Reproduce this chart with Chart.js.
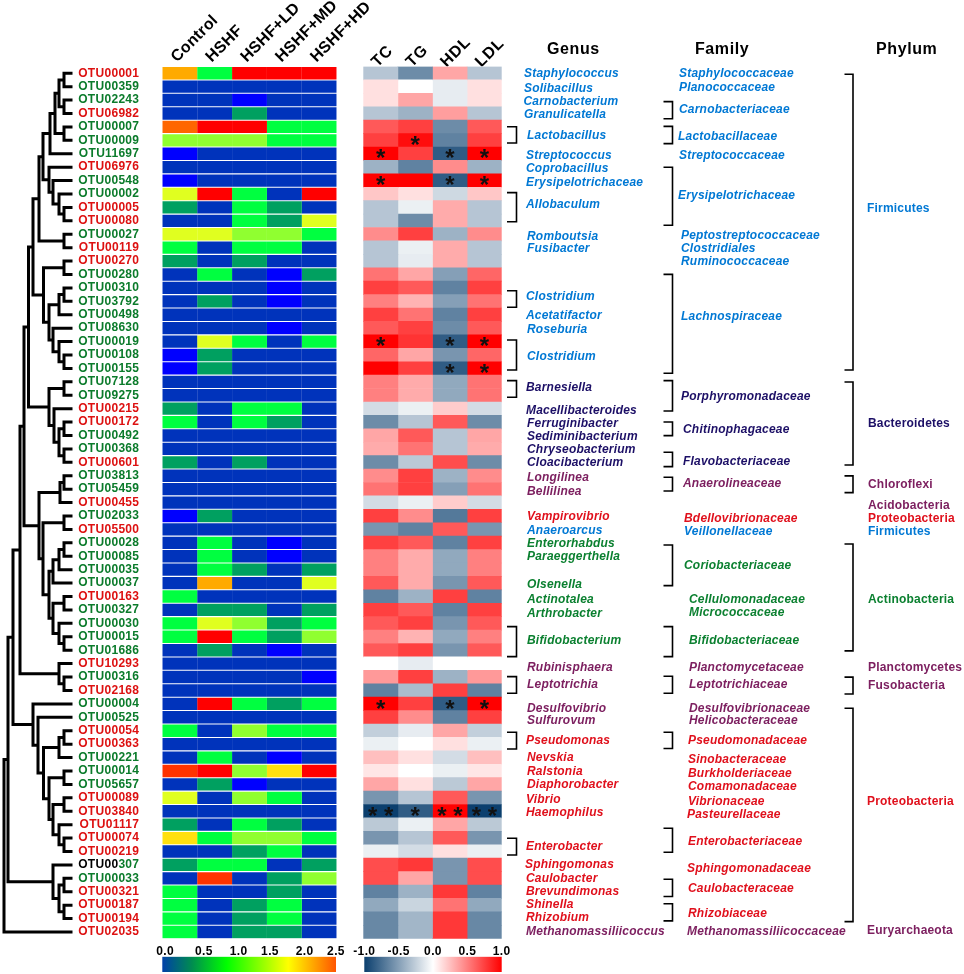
<!DOCTYPE html>
<html>
<head>
<meta charset="utf-8">
<title>OTU heatmap</title>
<script src="https://cdn.jsdelivr.net/npm/chart.js@4/dist/chart.umd.min.js"></script>
<style>
  html, body { margin: 0; padding: 0; background: #fff; }
  #page { position: relative; width: 964px; height: 974px; overflow: hidden; }
  #page canvas { position: absolute; }
</style>
</head>
<body>
<div id="page">
  <canvas id="treeChart" width="78" height="974" style="left:0;top:0"></canvas>
  <canvas id="taxaChart" width="462" height="974" style="left:502px;top:0"></canvas>
  <canvas id="abundChart" width="320" height="974" style="left:70px;top:0"></canvas>
  <canvas id="corrChart" width="220" height="974" style="left:340px;top:0"></canvas>
  <canvas id="abundBar" width="250" height="38" style="left:130px;top:936px"></canvas>
  <canvas id="corrBar" width="210" height="38" style="left:330px;top:936px"></canvas>
</div>
<script>
// Rows, top to bottom
var otuNames = ["OTU00001","OTU00359","OTU02243","OTU06982","OTU00007","OTU00009","OTU11697","OTU06976","OTU00548","OTU00002",
  "OTU00005","OTU00080","OTU00027","OTU00119","OTU00270","OTU00280","OTU00310","OTU03792","OTU00498","OTU08630",
  "OTU00019","OTU00108","OTU00155","OTU07128","OTU09275","OTU00215","OTU00172","OTU00492","OTU00368","OTU00601",
  "OTU03813","OTU05459","OTU00455","OTU02033","OTU05500","OTU00028","OTU00085","OTU00035","OTU00037","OTU00163",
  "OTU00327","OTU00030","OTU00015","OTU01686","OTU10293","OTU00316","OTU02168","OTU00004","OTU00525","OTU00054",
  "OTU00363","OTU00221","OTU00014","OTU05657","OTU00089","OTU03840","OTU01117","OTU00074","OTU00219","OTU00307",
  "OTU00033","OTU00321","OTU00187","OTU00194","OTU02035"];
var otuRed = ["OTU00001","OTU06982","OTU06976","OTU00005","OTU00080","OTU00119","OTU00270","OTU00215","OTU00172","OTU00601",
  "OTU00455","OTU05500","OTU00163","OTU10293","OTU02168","OTU00054","OTU00363","OTU00089","OTU03840","OTU01117",
  "OTU00074","OTU00219","OTU00321","OTU00187","OTU00194","OTU02035"];

// Abundance heatmap columns (0 to 2.5)
var abundNames = ["Control","HSHF","HSHF+LD","HSHF+MD","HSHF+HD"];
var control = [2.1,.1,.1,.1,2.2,1.4,0,.1,0,1.7, .5,.1,1.7,1,.5,.1,.1,.1,.1,.1, .1,0,0,.1,.1,.5,1,.1,.1,.5, .1,.1,.1,0,.1,.1,.1,.1,.1,1, .1,1,1,.1,.1,.1,.1,.1,.1,1, .1,.1,2.3,.1,1.7,.1,.5,1.9,.1,.5, .1,1,1,1,1];
var hshf = [1,.1,.1,.1,2.5,1.4,.1,.1,.1,2.5, .1,.1,1.7,.1,.1,1,.1,.5,.1,.1, 1.7,.5,.5,.1,.1,.1,.1,.1,.1,.1, .1,.1,.1,.5,.1,1,1,1,2.1,.1, .5,1.7,2.5,.5,.1,.1,.1,2.5,.1,.1, .1,1,2.5,.5,.1,.1,.1,1,.1,1, 2.3,.1,.1,.1,.1];
var hshfLd = [2.5,.1,0,.5,2.5,1.4,.1,.1,.1,1, 1,1,1.4,1,.5,.1,.1,.1,.1,.1, 1,.1,.1,.1,.1,1,1,.1,.1,.5, .1,.1,.1,.1,.1,.1,.1,.5,.1,.1, .5,1.4,1,.1,.1,.1,.1,1,.1,1.4, .1,.1,1.4,0,1.4,.1,1,1.4,.5,1, .1,.1,.5,.5,.5];
var hshfMd = [2.5,.1,.1,.1,1,1,.1,.1,.1,.1, .5,.5,1.4,1,.1,0,0,0,.1,0, .1,.1,.1,.1,.1,1,.5,.1,.1,.1, .1,.1,.1,.1,.1,0,0,.1,.1,.1, .1,.5,.5,0,.1,.1,.1,.5,.1,1, .1,0,1.9,.1,1,.1,.5,1.4,1,.1, .5,.5,1,1,.5];
var hshfHd = [2.5,.1,.1,.1,1,1,.1,.1,.1,2.5, .1,1.7,1,.1,.1,.5,.1,.1,.1,.1, 1,.1,.1,.1,.1,.1,.1,.1,.1,.1, .1,.1,.1,.1,.1,.1,.1,.5,1.7,.1, .5,1,1.4,.1,.1,0,.1,1,.1,1, .1,.1,2.5,.1,.1,.1,.1,1,.1,.5, 1.4,.1,.1,.1,.1];

// Correlation heatmap columns (-1 to 1)
var corrNames = ["TC","TG","HDL","LDL"];
var tc = [-.3,.12,.12,-.3,.65,.75,1,-.4,1,.22, -.3,-.3,.45,-.3,-.3,.55,.75,.5,.75,.65, 1,.6,1,.5,.5,-.18,-.6,.35,.33,-.6, .45,.55,-.18,.75,-.55,.75,.5,.5,.65,-.65, .75,.65,.5,.65,0,.4,-.65,1,.75,-.25, -.08,.25,.1,.35,-.55,-1,-.28,-.55,-.08,.7, .7,-.65,-.45,-.62,-.62];
var tg = [-.6,0,.35,-.4,.75,.95,.75,-.65,1,.12, -.08,-.6,.75,-.08,-.1,.35,.65,.3,.55,.75, .8,.35,.75,.33,.33,-.08,-.3,.65,.55,-.28, .75,.75,-.08,.45,-.65,.65,.33,.33,.33,-.4, .65,.75,.3,.75,-.1,.75,-.35,.75,.45,-.1, 0,.12,0,.12,-.3,-.85,-.08,-.3,-.18,.78, .35,-.4,-.22,-.38,-.38];
var hdl = [.35,-.1,-.1,.38,-.6,-.65,-.85,.45,-.85,-.2, .33,.33,-.4,.33,.33,-.5,-.65,-.5,-.65,-.6, -.85,-.55,-.85,-.45,-.45,.2,.65,-.3,-.3,.7, -.4,-.5,.2,-.7,.65,-.65,-.45,-.45,-.55,.75, -.65,-.55,-.45,-.55,0,-.4,.75,-.85,-.65,.35, .12,-.18,-.08,-.28,.65,1,.35,.65,.12,-.55, -.55,.78,.55,.78,.78];
var ldl = [-.3,.12,.12,-.3,.65,.75,1,-.4,1,.22, -.3,-.3,.45,-.3,-.3,.6,.75,.55,.75,.65, 1,.6,1,.55,.55,-.18,-.6,.35,.33,-.6, .45,.55,-.18,.75,-.55,.75,.5,.5,.65,-.65, .75,.65,.5,.65,0,.4,-.65,1,.75,-.25, -.08,.25,.1,.35,-.55,-1,-.28,-.55,-.08,.7, .7,-.65,-.45,-.62,-.62];

// Significance marks on the correlation heatmap
var starRows = [5,6,6,6,8,8,8,20,20,20,22,22,47,47,47,55,55,55,55];
var starCols = [1,0,2,3,0,2,3,0,2,3,2,3,0,2,3,0,1,2,3];
var starText = ["*","*","*","*","*","*","*","*","*","*","*","*","*","*","*","* *","*","* *","* *"];

// Dendrogram: [merge height, child, child], a plain number is a row
var tree = [4,
  [8,
    [13,
      [20,
        [24,
          [28.5,
            [33,
              [39,
                [43,
                  [50,[55,[59,[64,0,1],[64,2,3]],[64,4,5]],6],
                  [49,7,[53,8,[59,9,[64,10,11]]]]],
                [64,12,13]],
              [43.5,[64,14,15],[49,[59,[64,16,17],18],[53,19,[59,20,[64,21,22]]]]]],
            [49,[64,23,24],[54,25,[59,[64,26,27],[64,28,29]]]]],
          [39,
            [60,[64,30,31],32],
            [43,[64,33,34],[49,[53,[59,[64,35,36],37],38],[53,[64,39,40],[59,41,[64,42,43]]]]]]],
        [59,44,[64,45,46]]],
      [33,47,[38,48,[43.5,[59,[64,49,50],51],[49,[64,52,53],[53,[64,54,55],[59,56,[64,57,58]]]]]]]],
    [53,59,[59,[64,60,61],[64,62,63]]]],
  64];

// Taxonomy labels: name, row they sit on, phylum colour code
var genusNames = ["Staphylococcus","Solibacillus","Carnobacterium","Granulicatella","Lactobacillus","Streptococcus","Coprobacillus","Erysipelotrichaceae","Allobaculum","Romboutsia","Fusibacter","Clostridium","Acetatifactor","Roseburia","Clostridium","Barnesiella","Macellibacteroides","Ferruginibacter","Sediminibacterium","Chryseobacterium","Cloacibacterium","Longilinea","Bellilinea","Vampirovibrio","Anaeroarcus","Enterorhabdus","Paraeggerthella","Olsenella","Actinotalea","Arthrobacter","Bifidobacterium","Rubinisphaera","Leptotrichia","Desulfovibrio","Sulfurovum","Pseudomonas","Nevskia","Ralstonia","Diaphorobacter","Vibrio","Haemophilus","Enterobacter","Sphingomonas","Caulobacter","Brevundimonas","Shinella","Rhizobium","Methanomassiliicoccus"];
var genusRows = [0,1.15,2.15,3.11,4.63,6.12,7.12,8.16,9.77,12.18,13.05,16.62,18.09,19.08,21.13,23.43,25.15,26.12,27.09,28.03,29.02,30.14,31.18,33.07,34.06,35.03,36.03,38.14,39.25,40.25,42.29,44.32,45.57,47.33,48.25,49.74,51,52.09,53.02,54.16,55.1,57.66,58.95,60.02,60.96,61.98,62.9,63.97];
var genusGroup = "FFFFFFFFFFFFFFFBBBBBBCCPFAAAAAACCCCPPPPPPPPPPPPC";
var familyNames = ["Staphylococcaceae","Planococcaceae","Carnobacteriaceae","Lactobacillaceae","Streptococcaceae","Erysipelotrichaceae","Peptostreptococcaceae","Clostridiales","Ruminococcaceae","Lachnospiraceae","Porphyromonadaceae","Chitinophagaceae","Flavobacteriaceae","Anaerolineaceae","Bdellovibrionaceae","Veillonellaceae","Coriobacteriaceae","Cellulomonadaceae","Micrococcaceae","Bifidobacteriaceae","Planctomycetaceae","Leptotrichiaceae","Desulfovibrionaceae","Helicobacteraceae","Pseudomonadaceae","Sinobacteraceae","Burkholderiaceae","Comamonadaceae","Vibrionaceae","Pasteurellaceae","Enterobacteriaceae","Sphingomonadaceae","Caulobacteraceae","Rhizobiaceae","Methanomassiliicoccaceae"];
var familyRows = [0,1.1,2.74,4.73,6.12,9.13,12.13,13.1,14.02,18.14,24.08,26.54,28.92,30.56,33.17,34.17,36.72,39.25,40.22,42.29,44.32,45.57,47.33,48.25,49.74,51.15,52.22,53.17,54.31,55.25,57.29,59.28,60.81,62.6,63.97];
var familyGroup = "FFFFFFFFFFBBBCPFAAAACCCCPPPPPPPPPPC";
var phylumNames = ["Firmicutes","Bacteroidetes","Chloroflexi","Acidobacteria","Proteobacteria","Firmicutes","Actinobacteria","Planctomycetes","Fusobacteria","Proteobacteria","Euryarchaeota"];
var phylumRows = [10.12,26.14,30.69,32.2,33.17,34.17,39.25,44.32,45.64,54.31,63.9];
var phylumGroup = "FBCCPFACCPC";

// Bracket spans, in rows
var genusSpans = [[3.99,5.2],[8.9,11.07],[16.21,17.44],[19.88,22.12],[22.91,24.15],[41.24,43.48],[44.97,46.21],[49.11,50.36],[57.01,58.26]];
var familySpans = [[2.12,3.39],[3.96,5.25],[7.01,11.33],[14.99,22.36],[22.91,25.17],[25.99,27.01],[28.25,29.32],[30.11,31.13],[35.16,38.19],[41.24,43.48],[44.94,46.21],[49.11,50.33],[56.27,58.06],[60.07,61.36],[61.9,63.17]];
var phylumSpans = [[.08,22.12],[23.01,29.2],[30.01,31.26],[35.08,43.05],[45.01,46.26],[47.33,63.23]];

// Colour bars
var abundBarTicks = [.04,.6,1.1,1.55,2.05,2.5];
var abundBarLabels = ["0.0","0.5","1.0","1.5","2.0","2.5"];
var corrBarTicks = [-1,-.5,0,.5,1];

// ---- layout and colours ----
var PLOT_TOP = 66.5, PLOT_BOTTOM = 35.3;
var FONT = '"Liberation Sans", Arial, sans-serif';
var groupColors = { F: "#0078d4", B: "#1c0f66", C: "#7d2060", P: "#e0101c", A: "#0b8030" };
var OTU_RED = "#dd1111", OTU_GREEN = "#0b7b2b";

var genusX = [524,524,523.5,524,527,526,526,526,526,527,527,526,526,527,527,526,526,527,527,527,527,527,527,527,527,527,527,527,527,527,527,527,527,527,527,526,527,527,527,526,526,526,525,526,526,526,526,526];
var familyX = [679,679,679,678,679,678,681,681,681,681,681,683,683,683,684,684,684,689,689,689,689,689,689,689,688,688,688,688,688,687,688,687,688,688,687];
var phylumX = [867,868,868,868,868,868,868,868,868,867,867];

var abundStops = [[0,"#0000ff"],[.1,"#0033bb"],[.5,"#00a060"],[1,"#00ff40"],[1.4,"#90ff30"],[1.7,"#e0ff20"],[1.9,"#ffe010"],[2.1,"#ffaa00"],[2.2,"#ff6600"],[2.3,"#ff3300"],[2.5,"#ff0000"]];
var corrStops = [[-1,"#0b3f6e"],[0,"#ffffff"],[1,"#ff0000"]];
var abundBarStops = [[0,"#0040a8"],[.17,"#008c50"],[.37,"#00ff00"],[.725,"#ffff00"],[1,"#ff5500"]];
var corrBarStops = [[0,"#0b3f6e"],[.5,"#ffffff"],[1,"#ff0000"]];

function hexToRgb(h) {
  return [parseInt(h.substr(1,2),16), parseInt(h.substr(3,2),16), parseInt(h.substr(5,2),16)];
}
function colorFor(stops, v) {
  for (var i = 1; i < stops.length; i++) {
    if (v <= stops[i][0]) {
      var t = (v - stops[i-1][0]) / (stops[i][0] - stops[i-1][0]);
      var a = hexToRgb(stops[i-1][1]), b = hexToRgb(stops[i][1]);
      return "rgb(" + Math.round(a[0]+(b[0]-a[0])*t) + "," + Math.round(a[1]+(b[1]-a[1])*t) + "," + Math.round(a[2]+(b[2]-a[2])*t) + ")";
    }
  }
  return stops[stops.length-1][1];
}
function spacing(px) {
  return { id: "spacing", beforeDraw: function (chart) { chart.ctx.letterSpacing = px + "px"; } };
}
var baseOptions = {
  responsive: false,
  animation: false,
  events: [],
  plugins: { legend: { display: false }, tooltip: { enabled: false } }
};
function opts(extra) { return Object.assign({}, baseOptions, extra); }

function heatDatasets(columns, stops, percent) {
  return columns.map(function (values) {
    return {
      data: values.map(function () { return 1; }),
      backgroundColor: values.map(function (v) { return colorFor(stops, v); }),
      barPercentage: percent,
      categoryPercentage: 1,
      borderWidth: 0
    };
  });
}
function columnAxis(names, offset, font, pad) {
  return {
    type: "linear", position: "top", stacked: true, min: 0, max: names.length,
    grid: { display: false, drawTicks: false }, border: { display: false },
    afterBuildTicks: function (scale) {
      scale.ticks = names.map(function (n, i) { return { value: i + offset }; });
    },
    afterFit: function (scale) { scale.height = PLOT_TOP; },
    ticks: {
      autoSkip: false, minRotation: 45, maxRotation: 45, padding: pad, color: "#000", font: font,
      callback: function (v, i) { return names[i]; }
    }
  };
}

// ---- dendrogram ----
var treeLines = [];
function walk(node) {
  if (typeof node === "number") return { x: 71, y: node };
  var h = node[0];
  var kids = node.slice(1).map(walk);
  kids.forEach(function (k) {
    treeLines.push({ x: h, y: k.y }, { x: k.x, y: k.y }, { x: NaN, y: NaN });
  });
  var first = kids[0].y, last = kids[kids.length-1].y;
  treeLines.push({ x: h, y: first }, { x: h, y: last }, { x: NaN, y: NaN });
  return { x: h, y: (first + last) / 2 };
}
walk(tree);
new Chart(document.getElementById("treeChart"), {
  type: "line",
  data: { datasets: [{ data: treeLines, borderColor: "#000", borderWidth: 3, pointRadius: 0, borderCapStyle: "square", spanGaps: false, clip: false }] },
  options: opts({
    layout: { padding: { top: PLOT_TOP, bottom: PLOT_BOTTOM } },
    scales: {
      x: { type: "linear", min: 0, max: 78, display: false },
      y: { type: "linear", min: -.5, max: 64.5, reverse: true, display: false }
    }
  })
});

// ---- abundance heatmap ----
new Chart(document.getElementById("abundChart"), {
  type: "bar",
  data: { labels: otuNames, datasets: heatDatasets([control, hshf, hshfLd, hshfMd, hshfHd], abundStops, .92) },
  options: opts({
    indexAxis: "y",
    layout: { padding: { right: 53.3, bottom: PLOT_BOTTOM } },
    scales: {
      x: columnAxis(abundNames, .72, { family: FONT, size: 16, weight: "bold" }, 0),
      y: {
        type: "category", stacked: true,
        grid: { display: false, drawTicks: false }, border: { display: false },
        afterFit: function (scale) { scale.width = 92.3; },
        ticks: {
          autoSkip: false, padding: 23, font: { family: FONT, size: 12, weight: "bold" },
          color: function (c) { return otuRed.indexOf(otuNames[c.index]) >= 0 ? OTU_RED : OTU_GREEN; },
          callback: function (v, i) { return otuNames[i] === "OTU00307" ? "" : otuNames[i]; }
        }
      }
    }
  }),
  plugins: [spacing(.3), {
    id: "twoToneLabel",
    afterDraw: function (chart) {
      // this one label is half black, half green in the original
      var ctx = chart.ctx, y = chart.scales.y.getPixelForValue(otuNames.indexOf("OTU00307"));
      var right = chart.chartArea.left - 23;
      ctx.save();
      ctx.font = "bold 12px " + FONT;
      ctx.letterSpacing = ".3px";
      ctx.textBaseline = "middle";
      ctx.textAlign = "left";
      var x = right - ctx.measureText("OTU00307").width;
      ctx.fillStyle = "#000";
      ctx.fillText("OTU00", x, y);
      ctx.fillStyle = OTU_GREEN;
      ctx.fillText("307", x + ctx.measureText("OTU00").width, y);
      ctx.restore();
    }
  }]
});

// ---- correlation heatmap ----
new Chart(document.getElementById("corrChart"), {
  type: "bar",
  data: { labels: otuNames, datasets: heatDatasets([tc, tg, hdl, ldl], corrStops, 1) },
  options: opts({
    indexAxis: "y",
    layout: { padding: { left: 23.3, right: 58.3, bottom: PLOT_BOTTOM } },
    scales: {
      x: columnAxis(corrNames, .71, { family: FONT, size: 16, weight: "bold" }, -5),
      y: { type: "category", stacked: true, display: false }
    }
  }),
  plugins: [spacing(.8), {
    id: "stars",
    afterDatasetsDraw: function (chart) {
      var ctx = chart.ctx;
      ctx.save();
      ctx.letterSpacing = "0px";
      ctx.font = "bold 24px " + FONT;
      ctx.fillStyle = "#111";
      ctx.textAlign = "center";
      ctx.textBaseline = "middle";
      starRows.forEach(function (row, i) {
        ctx.fillText(starText[i], chart.scales.x.getPixelForValue(starCols[i] + .5), chart.scales.y.getPixelForValue(row) + 6);
      });
      ctx.restore();
    }
  }]
});

// ---- genus, family and phylum columns ----
var bracketLines = [];
function addBrackets(spans, x0, x1) {
  spans.forEach(function (s) {
    bracketLines.push({ x: x0, y: s[0] }, { x: x1, y: s[0] }, { x: x1, y: s[1] }, { x: x0, y: s[1] }, { x: NaN, y: NaN });
  });
}
addBrackets(genusSpans, 507, 516.5);
addBrackets(familySpans, 663.5, 672.5);
addBrackets(phylumSpans, 844.5, 853);

new Chart(document.getElementById("taxaChart"), {
  type: "line",
  data: { datasets: [{ data: bracketLines, borderColor: "#000", borderWidth: 1.6, pointRadius: 0, spanGaps: false, clip: false }] },
  options: opts({
    layout: { padding: { top: PLOT_TOP, bottom: PLOT_BOTTOM } },
    scales: {
      x: { type: "linear", min: 502, max: 964, display: false },
      y: { type: "linear", min: -.5, max: 64.5, reverse: true, display: false }
    }
  }),
  plugins: [{
    id: "taxonText",
    afterDraw: function (chart) {
      var ctx = chart.ctx, sx = chart.scales.x, sy = chart.scales.y;
      function column(names, rows, xs, groups, font, gap) {
        ctx.font = font;
        ctx.letterSpacing = gap + "px";
        names.forEach(function (n, i) {
          ctx.fillStyle = groupColors[groups[i]];
          ctx.fillText(n, sx.getPixelForValue(xs[i]), sy.getPixelForValue(rows[i]));
        });
      }
      ctx.save();
      ctx.textAlign = "left";
      ctx.textBaseline = "middle";
      column(genusNames, genusRows, genusX, genusGroup, "italic bold 12px " + FONT, .2);
      column(familyNames, familyRows, familyX, familyGroup, "italic bold 12px " + FONT, .2);
      column(phylumNames, phylumRows, phylumX, phylumGroup, "bold 12px " + FONT, .2);
      ctx.font = "bold 16px " + FONT;
      ctx.letterSpacing = ".6px";
      ctx.fillStyle = "#000";
      ctx.fillText("Genus", sx.getPixelForValue(547), sy.getPixelForValue(-1.73));
      ctx.fillText("Family", sx.getPixelForValue(695), sy.getPixelForValue(-1.73));
      ctx.fillText("Phylum", sx.getPixelForValue(876), sy.getPixelForValue(-1.73));
      ctx.restore();
    }
  }]
});

// ---- colour bars ----
function colorBar(id, min, max, stops, tickValues, tickLabels, padLeft, padRight) {
  new Chart(document.getElementById(id), {
    type: "bar",
    data: {
      labels: ["scale"],
      datasets: [{
        data: [[min, max]],
        barPercentage: 1,
        categoryPercentage: 1,
        borderWidth: 0,
        backgroundColor: function (c) {
          var area = c.chart.chartArea;
          if (!area) return "transparent";
          var g = c.chart.ctx.createLinearGradient(area.left, 0, area.right, 0);
          stops.forEach(function (s) { g.addColorStop(s[0], s[1]); });
          return g;
        }
      }]
    },
    options: opts({
      indexAxis: "y",
      layout: { padding: { left: padLeft, right: padRight, bottom: 2 } },
      scales: {
        x: {
          type: "linear", position: "top", min: min, max: max,
          grid: { display: false, drawTicks: false }, border: { display: false },
          afterBuildTicks: function (scale) {
            scale.ticks = tickValues.map(function (v) { return { value: v }; });
          },
          afterFit: function (scale) { scale.height = 20.7; },
          ticks: {
            autoSkip: false, maxRotation: 0, padding: -2, color: "#000",
            font: { family: FONT, size: 12, weight: "bold" },
            callback: function (v, i) { return tickLabels[i]; }
          }
        },
        y: { type: "category", display: false }
      }
    }),
    plugins: [spacing(.4)]
  });
}
colorBar("abundBar", 0, 2.5, abundBarStops, abundBarTicks, abundBarLabels, 32.3, 44);
colorBar("corrBar", -1, 1, corrBarStops, corrBarTicks, corrBarTicks.map(function (v) { return v.toFixed(1); }), 34.3, 38.3);
</script>
</body>
</html>
